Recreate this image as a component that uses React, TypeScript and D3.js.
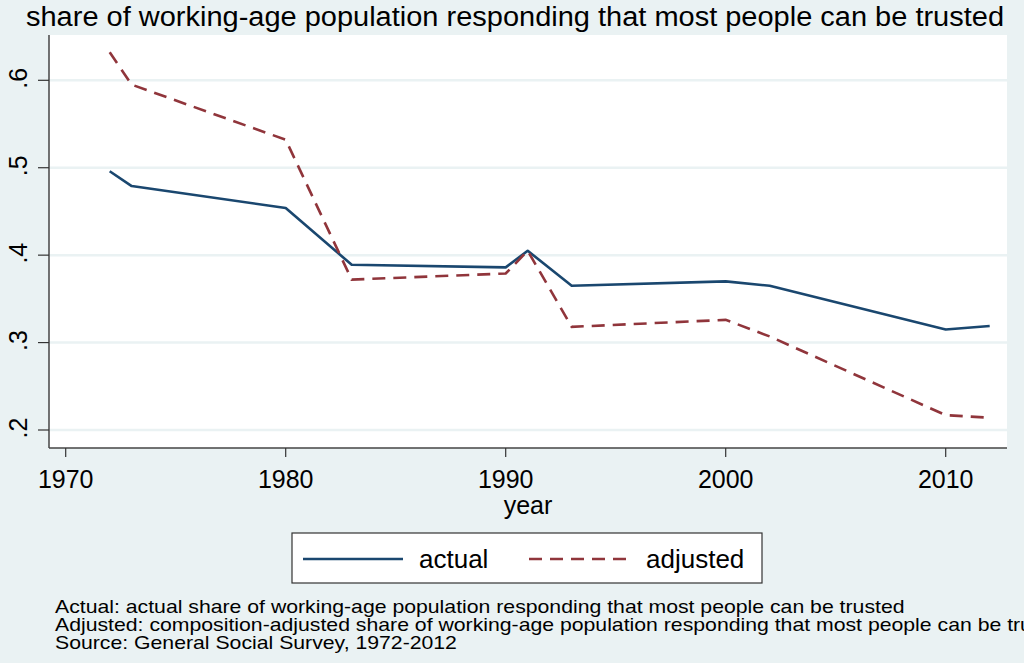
import React from "react";
import * as d3 from "d3";

const years = [1972, 1973, 1980, 1983, 1990, 1991, 1993, 2000, 2002, 2010, 2012];
const actual = [0.496, 0.479, 0.454, 0.389, 0.386, 0.405, 0.365, 0.370, 0.365, 0.315, 0.319];
const adjusted = [0.632, 0.595, 0.532, 0.372, 0.379, 0.405, 0.318, 0.326, 0.307, 0.217, 0.214];
const xTicks = [1970, 1980, 1990, 2000, 2010];
const yTicks = [0.2, 0.3, 0.4, 0.5, 0.6];
const yTickLabels = [".2", ".3", ".4", ".5", ".6"];
const title = "share of working-age population responding that most people can be trusted";
const notes = [
  "Actual: actual share of working-age population responding that most people can be trusted",
  "Adjusted: composition-adjusted share of working-age population responding that most people can be trusted",
  "Source: General Social Survey, 1972-2012",
];

const W = 1024, H = 663;
const plot = { left: 49, right: 1007, top: 35, bottom: 448 };
const BG = "#EAF2F3";
const NAVY = "#1A476F";
const MAROON = "#90353B";
const FONT = "Arial, 'Liberation Sans', sans-serif";

export default function App() {
  const x = d3.scaleLinear().domain([1970, 2010]).range([65.7, 945.7]);
  const y = d3.scaleLinear().domain([0.2, 0.6]).range([430, 80.3]);
  const line = d3.line<number>().x((_, i) => x(years[i])).y((d) => y(d));
  return (
    <svg width={W} height={H} style={{ position: "absolute", left: 0, top: 0 }}>
      <rect x={0} y={0} width={W} height={H} fill={BG} />
      <text x={26} y={26} fontFamily={FONT} fontSize={27} fill="#000" textLength={978} lengthAdjust="spacingAndGlyphs">{title}</text>
      <rect x={plot.left} y={plot.top} width={plot.right - plot.left} height={plot.bottom - plot.top} fill="#fff" />
      {yTicks.map((t) => (
        <line key={"g" + t} x1={plot.left} x2={plot.right} y1={y(t)} y2={y(t)} stroke={BG} strokeWidth={2.5} />
      ))}
      <path d={line(actual) || ""} fill="none" stroke={NAVY} strokeWidth={2.6} strokeLinejoin="round" />
      <path d={line(adjusted) || ""} fill="none" stroke={MAROON} strokeWidth={2.6} strokeDasharray="13,8" />
      <line x1={plot.left} x2={plot.left} y1={plot.top} y2={plot.bottom} stroke="#444" strokeWidth={1.5} />
      <line x1={plot.left} x2={plot.right} y1={plot.bottom} y2={plot.bottom} stroke="#444" strokeWidth={1.5} />
      {yTicks.map((t, i) => (
        <g key={"y" + t}>
          <line x1={38} x2={plot.left} y1={y(t)} y2={y(t)} stroke="#333" strokeWidth={1.2} />
          <text transform={`translate(27,${y(t) - 2}) rotate(-90)`} textAnchor="middle" fontFamily={FONT} fontSize={25} fill="#000">{yTickLabels[i]}</text>
        </g>
      ))}
      {xTicks.map((t) => (
        <g key={"x" + t}>
          <line x1={x(t)} x2={x(t)} y1={plot.bottom} y2={plot.bottom + 9} stroke="#333" strokeWidth={1.2} />
          <text x={x(t)} y={488} textAnchor="middle" fontFamily={FONT} fontSize={25} fill="#000">{t}</text>
        </g>
      ))}
      <text x={528} y={514} textAnchor="middle" fontFamily={FONT} fontSize={25} fill="#000">year</text>
      <rect x={292} y={533} width={470} height={50} fill="#fff" stroke="#333" strokeWidth={1.2} />
      <line x1={303} x2={403} y1={559} y2={559} stroke={NAVY} strokeWidth={2.6} />
      <text x={419} y={568} fontFamily={FONT} fontSize={26} fill="#000">actual</text>
      <line x1={529} x2={630} y1={559} y2={559} stroke={MAROON} strokeWidth={2.6} strokeDasharray="13,8" />
      <text x={646} y={568} fontFamily={FONT} fontSize={26} fill="#000">adjusted</text>
      {notes.map((n, i) => (
        <text key={i} transform={`translate(55,${613 + i * 18.2}) scale(1.18,1)`} fontFamily={FONT} fontSize={18} fill="#000">{n}</text>
      ))}
    </svg>
  );
}
